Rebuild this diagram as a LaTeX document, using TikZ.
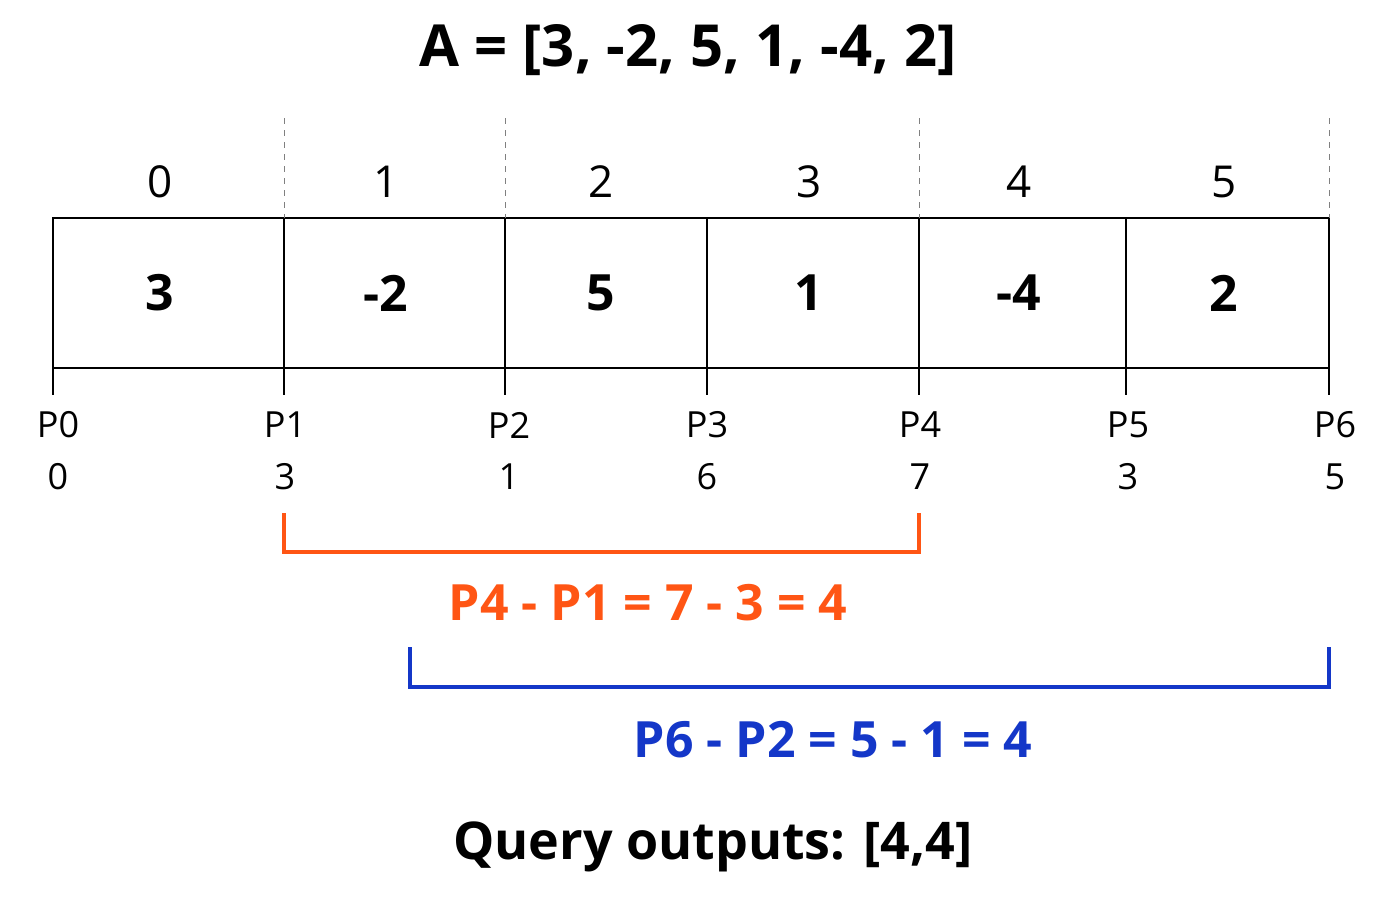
\documentclass[tikz,border=0pt]{standalone}
\usepackage{fontspec}
\setmainfont{Open Sans}
\begin{document}
\begin{tikzpicture}[x=0.5pt,y=-0.5pt,
 idx/.style={font=\fontsize{22}{24}\selectfont},
 val/.style={font=\fontsize{25}{28}\selectfont\bfseries},
 plab/.style={font=\fontsize{18}{20}\selectfont},
 eq/.style={font=\fontsize{25}{28}\selectfont\bfseries},
 ln/.style={line width=1.3pt}]
\useasboundingbox (0,0) rectangle (1400,900);
\node[font=\fontsize{29}{32}\selectfont\bfseries] (title) at (688,50) {A = [3, -2, 5, 1, -4, 2]};
\draw[ln] (53,218) rectangle (1329,368);
\foreach \x/\n in {53/0,284/1,505/2,707/3,919/4,1126/5,1329/6}{
  \draw[ln] (\x,218) -- (\x,395);
}
\foreach \x in {284,505,919,1329}{
  \draw[gray,dashed,line width=0.4pt] (\x,118) -- (\x,218);
}
\foreach \x/\i/\v in {160/0/3,386/1/-2,601/2/5,809/3/1,1019/4/-4,1224/5/2}{
  \node[idx] (i\i) at (\x,182) {\i};
  \node[val] (v\i) at (\x,293) {\v};
}
\foreach \x/\i/\v in {58/0/0,285/1/3,509/2/1,707/3/6,920/4/7,1128/5/3,1335/6/5}{
  \node[plab] (p\i) at (\x,425) {P\i};
  \node[plab] (q\i) at (\x,477) {\v};
}
\coordinate (oa) at (284,513); \coordinate (ob) at (919,513);
\draw[line width=2pt,color={rgb,255:red,255;green,85;blue,20}] (oa) -- (284,552) -- (919,552) -- (ob);
\node[eq,text={rgb,255:red,255;green,85;blue,20}] (eo) at (648,603) {P4 - P1 = 7 - 3 = 4};
\coordinate (ba) at (410,647); \coordinate (bb) at (1329,647);
\draw[line width=2pt,color={rgb,255:red,20;green,55;blue,200}] (ba) -- (410,687) -- (1329,687) -- (bb);
\node[eq,text={rgb,255:red,20;green,55;blue,200}] (eb) at (833,740) {P6 - P2 = 5 - 1 = 4};
\node[font=\fontsize{26}{28}\selectfont\bfseries] (out) at (713,847) {Query outputs: [4,4]};
\end{tikzpicture}
\end{document}
